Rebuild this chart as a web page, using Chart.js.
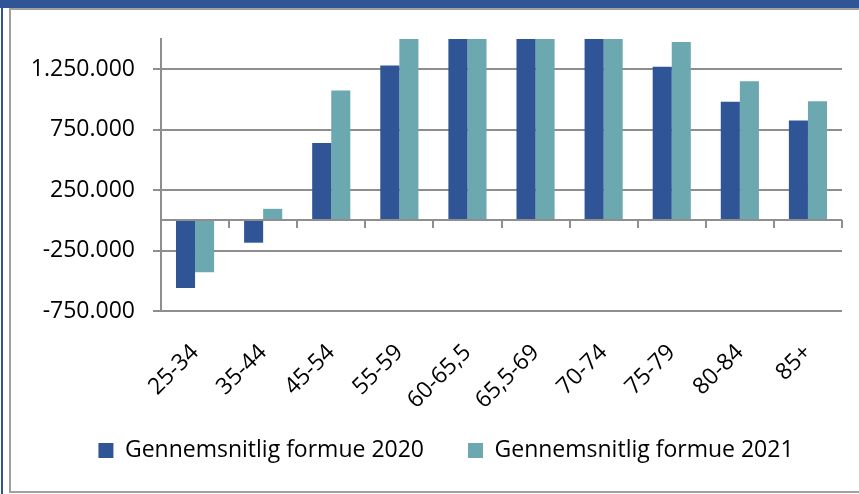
<!DOCTYPE html>
<html>
<head>
<meta charset="utf-8">
<script src="https://cdn.jsdelivr.net/npm/chart.js@4/dist/chart.umd.min.js"></script>
<style>
  html, body { margin: 0; padding: 0; background: #fff; }
  #wrap { position: relative; width: 859px; height: 494px; overflow: hidden; background: #fff; }
  #band { position: absolute; left: 0; top: 0; width: 859px; height: 8px; background: #2F5597; }
  #stripe { position: absolute; left: 1px; top: 8px; width: 2px; height: 486px; background: #2F5597; }
  #frame { position: absolute; left: 9px; top: 8px; width: 860px; height: 481px;
           border-left: 2px solid #a0a0a0; border-top: 2px solid #a0a0a0; border-bottom: 2px solid #a0a0a0; }
  #c { position: absolute; left: 0; top: 0; }
</style>
</head>
<body>
<div id="wrap">
  <div id="band"></div>
  <div id="stripe"></div>
  <div id="frame"></div>
  <canvas id="c" width="859" height="494"></canvas>
</div>
<script>
// ---- data ----
const categories = ['25-34', '35-44', '45-54', '55-59', '60-65,5', '65,5-69', '70-74', '75-79', '80-84', '85+'];
const formue2020 = [-560000, -185000, 640000, 1280000, 1700000, 1800000, 1650000, 1270000, 980000, 825000];
const formue2021 = [-430000, 95000, 1075000, 1560000, 1850000, 1950000, 1800000, 1475000, 1150000, 985000];
const seriesNames = ['Gennemsnitlig formue 2020', 'Gennemsnitlig formue 2021'];
const yTickValues = [-750000, -250000, 250000, 750000, 1250000];
const yMin = -750000;
const yMax = 1500000;

function fmt(v) {
  const s = Math.abs(v).toString().replace(/\B(?=(\d{3})+(?!\d))/g, '.');
  return (v < 0 ? '-' : '') + s;
}

const GRID = '#8e8e8e';
Chart.defaults.font.family = "'Open Sans', sans-serif";
Chart.defaults.font.size = 23;
Chart.defaults.color = '#000';

const zeroAxis = {
  id: 'zeroAxis',
  afterDatasetsDraw(chart) {
    const { ctx, chartArea, scales } = chart;
    const y = Math.round(scales.y.getPixelForValue(0));
    ctx.save();
    ctx.strokeStyle = GRID;
    ctx.lineWidth = 2;
    ctx.beginPath();
    ctx.moveTo(chartArea.left, y);
    ctx.lineTo(chartArea.right, y);
    const n = categories.length;
    const w = (chartArea.right - chartArea.left) / n;
    for (let i = 1; i <= n; i++) {
      const x = Math.round(chartArea.left + i * w);
      ctx.moveTo(x, y);
      ctx.lineTo(x, y + 8);
    }
    ctx.stroke();
    ctx.restore();
  }
};

function noLabelClip(scale) { scale._computeLabelArea = function () { return undefined; }; }

new Chart(document.getElementById('c'), {
  type: 'bar',
  data: {
    labels: categories,
    datasets: [
      { label: seriesNames[0], data: formue2020, backgroundColor: '#2F5597', categoryPercentage: 0.56, barPercentage: 1.0 },
      { label: seriesNames[1], data: formue2021, backgroundColor: '#6CA8AF', categoryPercentage: 0.56, barPercentage: 1.0 }
    ]
  },
  options: {
    responsive: false,
    animation: false,
    layout: { padding: { left: 50, right: 17, top: 39, bottom: 22 } },
    plugins: {
      legend: {
        position: 'bottom',
        labels: { boxWidth: 15, boxHeight: 15, padding: 44, color: '#000', font: { size: 23 } }
      },
      tooltip: { enabled: false }
    },
    scales: {
      x: {
        grid: { display: false },
        border: { display: false },
        ticks: { autoSkip: false, minRotation: 45, maxRotation: 45, padding: 20, color: '#000' },
        afterFit(scale) { scale.height = 84; noLabelClip(scale); }
      },
      y: {
        min: yMin,
        max: yMax,
        afterBuildTicks(scale) { scale.ticks = yTickValues.map(v => ({ value: v })); },
        afterFit(scale) { scale.width = 111; noLabelClip(scale); },
        grid: { color: GRID, lineWidth: 2, tickLength: 8, drawTicks: true },
        border: { display: true, color: GRID, width: 2 },
        ticks: { padding: 18, color: '#000', callback: (v) => fmt(v) }
      }
    }
  },
  plugins: [zeroAxis]
});
</script>
</body>
</html>
